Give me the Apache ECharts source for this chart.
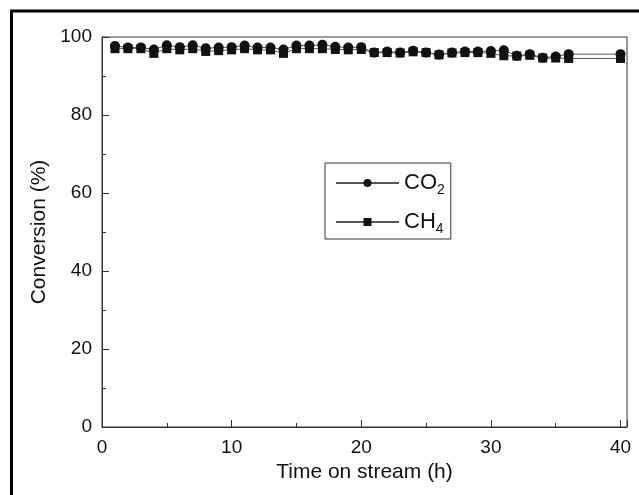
<!DOCTYPE html>
<html>
<head>
<meta charset="utf-8">
<script src="https://cdn.jsdelivr.net/npm/echarts@6/dist/echarts.min.js"></script>
<style>
  html, body { margin: 0; padding: 0; background: #fff; }
  #chart { width: 639px; height: 495px; }
</style>
</head>
<body>
<div id="chart"></div>
<script>
// Time on stream (h)
const hours = [1, 2, 3, 4, 5, 6, 7, 8, 9, 10, 11, 12, 13, 14, 15, 16, 17, 18, 19, 20,
               21, 22, 23, 24, 25, 26, 27, 28, 29, 30, 31, 32, 33, 34, 35, 36, 40];
// CO2 conversion (%)
const co2 = [97.7, 97.3, 97.3, 96.8, 97.9, 97.4, 97.9, 97.1, 97.3, 97.4, 97.8, 97.3, 97.3, 96.8, 97.8,
             97.8, 98.0, 97.5, 97.3, 97.4,
             96.0, 96.3, 96.0, 96.5, 96.0, 95.5, 96.0, 96.3, 96.3, 96.4, 96.6,
             95.2, 95.6, 94.7, 95.0, 95.6, 95.6];
// CH4 conversion (%)
const ch4 = [97.0, 97.0, 97.0, 95.8, 97.0, 96.7, 97.0, 96.3, 96.5, 96.7, 97.0, 96.7, 96.7, 95.8, 97.0,
             97.0, 97.0, 96.8, 96.7, 96.8,
             96.0, 96.0, 95.9, 96.2, 96.0, 95.4, 95.9, 96.0, 96.0, 95.8, 95.2,
             95.1, 95.3, 94.6, 94.6, 94.5, 94.5];
const xTicks = [0, 10, 20, 30, 40];
const yTicks = [0, 20, 40, 60, 80, 100];

const pairs = (xs, ys) => xs.map((x, i) => [x, ys[i]]);
const FONT = 'Liberation Sans, Arial, sans-serif';
const INK = '#333';

const chart = echarts.init(document.getElementById('chart'), null, { renderer: 'canvas' });

chart.setOption({
  backgroundColor: '#fff',
  animation: false,
  graphic: [{
    type: 'rect',
    shape: { x: 11.5, y: 11, width: 700, height: 600 },
    style: { fill: 'none', stroke: '#000', lineWidth: 3 },
    silent: true
  }],
  grid: {
    left: 102, top: 37, right: 12, bottom: 68,
    show: true, borderColor: INK, borderWidth: 1, backgroundColor: 'transparent'
  },
  legend: {
    left: 325, top: 163,
    orient: 'vertical',
    itemWidth: 63, itemHeight: 10, itemGap: 11,
    padding: [6, 6, 3, 10],
    borderColor: INK, borderWidth: 1,
    data: ['CO2', 'CH4'],
    formatter: name => name === 'CO2' ? '{a|CO}{b|2}' : '{a|CH}{b|4}',
    textStyle: {
      fontFamily: FONT, color: '#111',
      rich: {
        a: { fontSize: 22, fontFamily: FONT, color: '#111', lineHeight: 22 },
        b: { fontSize: 14, fontFamily: FONT, color: '#111', lineHeight: 14, padding: [14, 0, 0, 0] }
      }
    }
  },
  xAxis: {
    type: 'value', min: 0, max: 40.5, interval: 10,
    name: 'Time on stream (h)', nameLocation: 'middle', nameGap: 33,
    nameTextStyle: { fontFamily: FONT, fontSize: 21, color: '#111' },
    axisLine: { show: true, lineStyle: { color: INK, width: 1 } },
    axisTick: { show: true, inside: true, length: 7, lineStyle: { color: INK } },
    minorTick: { show: true, splitNumber: 2, length: 4, lineStyle: { color: INK } },
    splitLine: { show: false },
    axisLabel: {
      fontFamily: FONT, fontSize: 19, color: '#111', margin: 11,
      formatter: v => xTicks.includes(v) ? String(v) : ''
    }
  },
  yAxis: {
    type: 'value', min: 0, max: 100, interval: 20,
    name: 'Conversion (%)', nameLocation: 'middle', nameGap: 51,
    nameTextStyle: { fontFamily: FONT, fontSize: 21, color: '#111' },
    axisLine: { show: true, lineStyle: { color: INK, width: 1 } },
    axisTick: { show: true, inside: true, length: 7, lineStyle: { color: INK } },
    minorTick: { show: true, splitNumber: 2, length: 4, lineStyle: { color: INK } },
    splitLine: { show: false },
    axisLabel: {
      fontFamily: FONT, fontSize: 19, color: '#111', margin: 10,
      formatter: v => yTicks.includes(v) ? String(v) : ''
    }
  },
  series: [
    {
      name: 'CO2', type: 'line', data: pairs(hours, co2),
      symbol: 'circle', symbolSize: 10, showSymbol: true,
      itemStyle: { color: '#111' },
      lineStyle: { color: '#555', width: 1 }
    },
    {
      name: 'CH4', type: 'line', data: pairs(hours, ch4),
      symbol: 'rect', symbolSize: 9, showSymbol: true,
      itemStyle: { color: '#111' },
      lineStyle: { color: '#555', width: 1 }
    }
  ]
});
</script>
</body>
</html>
